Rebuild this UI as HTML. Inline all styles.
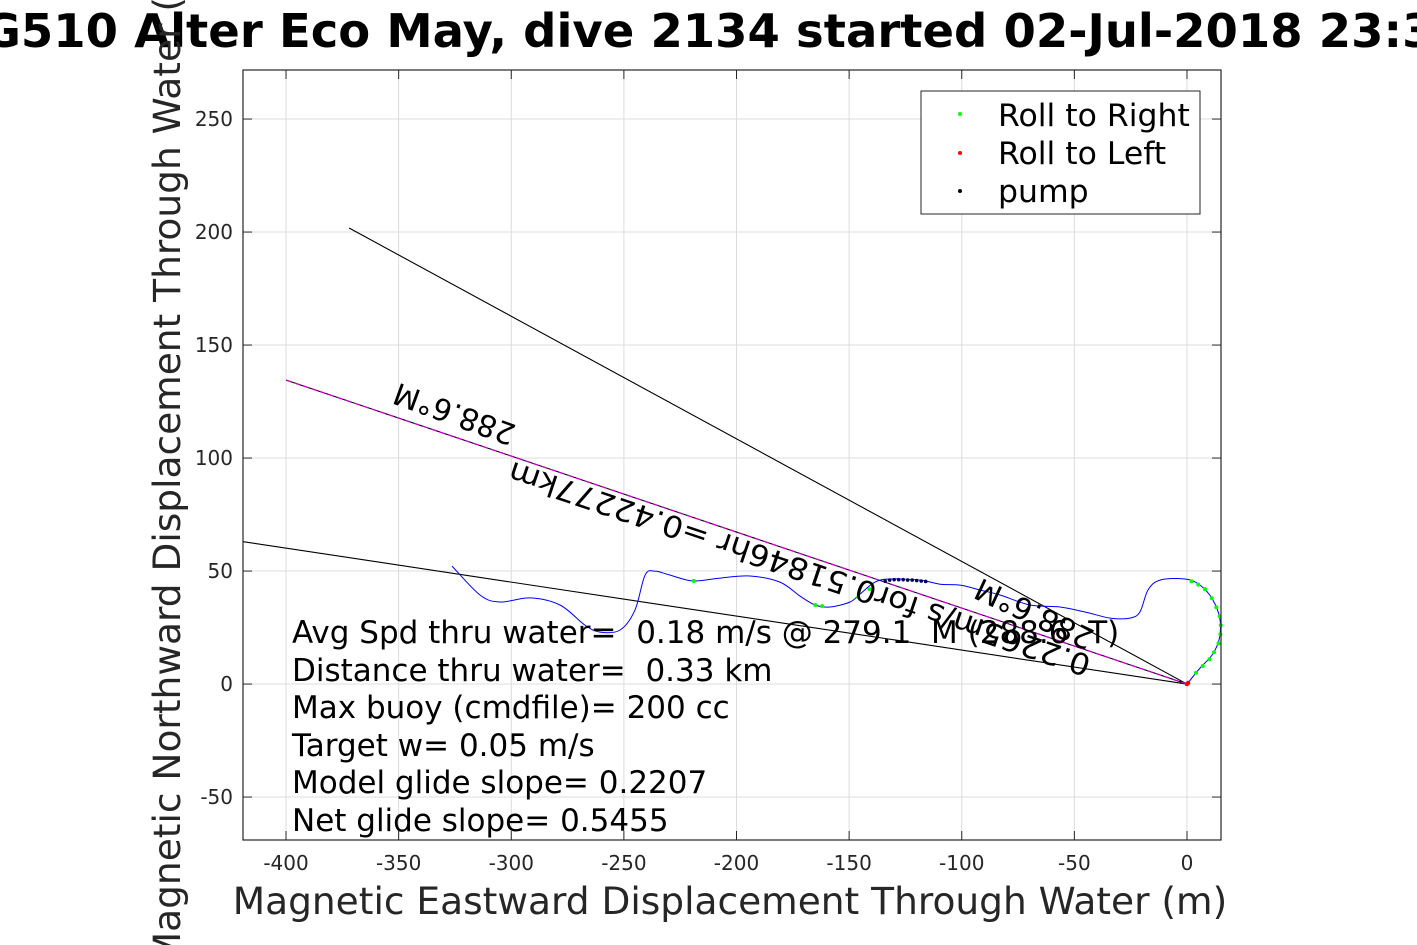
<!DOCTYPE html>
<html><head><meta charset="utf-8"><style>
html,body{margin:0;padding:0;background:#fff;}
svg{display:block;font-family:"DejaVu Sans","Liberation Sans",sans-serif;}
text{white-space:pre;}
</style></head><body>
<svg id="chart" width="1417" height="945" viewBox="0 0 1417 945">
<g id="grid"></g>
<g id="lines"></g>
<g id="track"></g>
<g id="marks"></g>
<rect x="243" y="70" width="978" height="770" fill="none" stroke="#262626" stroke-width="1.2"/>
<g id="ticks" font-size="20" fill="#262626"></g>
<text x="708" y="47" text-anchor="middle" font-size="46.5" font-weight="bold" fill="#000">SG510 Alter Eco May, dive 2134 started 02-Jul-2018 23:30</text>
<text x="730" y="914" text-anchor="middle" font-size="37.5" fill="#262626">Magnetic Eastward Displacement Through Water (m)</text>
<text transform="translate(180,455) rotate(-90)" text-anchor="middle" font-size="37.5" fill="#262626">Magnetic Northward Displacement Through Water (m)</text>
<g font-size="30" fill="#000">
<text transform="translate(455,412) rotate(200)" text-anchor="middle" dominant-baseline="middle">288.6°M</text>
<text transform="translate(800,567) rotate(198.6)" text-anchor="middle" dominant-baseline="middle" textLength="612" lengthAdjust="spacingAndGlyphs">0.2265m/s for0.51846hr =0.42277km</text>
<text transform="translate(1035,612) rotate(205)" text-anchor="middle" dominant-baseline="middle">288.6°M</text>
</g>
<g font-size="31" fill="#000">
<text x="292" y="643">Avg Spd thru water=  0.18 m/s @ 279.1  M (288.6  T)</text>
<text x="292" y="681">Distance thru water=  0.33 km</text>
<text x="292" y="718">Max buoy (cmdfile)= 200 cc</text>
<text x="292" y="756">Target w= 0.05 m/s</text>
<text x="292" y="793">Model glide slope= 0.2207</text>
<text x="292" y="831">Net glide slope= 0.5455</text>
</g>
<g>
<rect x="921" y="91" width="279" height="123" fill="#fff" stroke="#262626" stroke-width="1"/>
<circle cx="960" cy="114" r="2" fill="#00ff00"/>
<text x="998" y="126" font-size="31.5">Roll to Right</text>
<circle cx="960" cy="153" r="2" fill="#ff0000"/>
<text x="998" y="164" font-size="31.5">Roll to Left</text>
<circle cx="960" cy="191" r="2" fill="#000"/>
<text x="998" y="202" font-size="31.5">pump</text>
</g>
</svg>
<script>
const xTicks=[-400,-350,-300,-250,-200,-150,-100,-50,0];
const yTicks=[-50,0,50,100,150,200,250];
const trackX=[-326.3,-313.9,-305,-291.7,-278.4,-267.3,-260.6,-251.7,-245.1,-240.6,-236.2,-229.5,-219.3,-207.3,-194,-180.7,-171.8,-165.1,-158.5,-149.6,-145.2,-138.5,-131.9,-118.5,-109.7,-100.8,-91.9,-83,-69.7,-56.4,-45.3,-34.2,-25.3,-20.9,-17.3,-12,-0.9,5.8,11.5,14.7,14.2,11.1,5.8,0];
const trackY=[52.2,39.4,36.3,38.1,35,26.1,23,23.9,32.7,48.2,50,48.2,45.6,46.9,47.8,45.1,38.9,35,34.1,36.3,39.8,45.1,46.5,46,44.2,43.8,41.6,39.4,35,34.1,31.9,29.2,29.2,31.9,41.6,46,46.5,43.8,37.2,28.3,19.5,12.8,7.1,0];
const rightX=[-219,-165,-162,-146,-141,2,5,8,11,13,14.5,15,14.8,14,12,10,7,4];
const rightY=[45.6,35,34.5,38.5,42,45.5,44,42,38,34,30,26,22,18,14,11,8,5];
const pumpX=[-134,-132,-130,-128,-126,-124,-122,-120,-118,-116];
const pumpY=[45.5,46,46.2,46.2,46.2,46,46,45.8,45.6,45.4];
const leftX=[0,0.5];
const leftY=[0,0.5];
const lineEndX=[-372,-419,-400];
const lineEndY=[201.8,63,134.5];
const X0=-419.1,X1=15.1,Y0=-69,Y1=271.7;
const L=243,R=1221,T=70,B=840;
function sx(v){return L+(v-X0)/(X1-X0)*(R-L);}
function sy(v){return B-(v-Y0)/(Y1-Y0)*(B-T);}
const NS='http://www.w3.org/2000/svg';
function mk(tag,parent,attrs){const e=document.createElementNS(NS,tag);for(const k in attrs)e.setAttribute(k,attrs[k]);document.getElementById(parent).appendChild(e);return e;}
xTicks.forEach(v=>{
 const g=mk('line','grid',{x1:sx(v),x2:sx(v),y1:T,y2:B,stroke:'#dcdcdc','stroke-width':1});
 
 
 const t1=mk('line','ticks',{x1:sx(v),x2:sx(v),y1:B,y2:B-9,stroke:'#262626'});
 
 
 const t2=mk('line','ticks',{x1:sx(v),x2:sx(v),y1:T,y2:T+9,stroke:'#262626'});
 
 
 const tx=mk('text','ticks',{x:sx(v),y:870,'text-anchor':'middle'});
 tx.textContent=v;
 
 
});
yTicks.forEach(v=>{
 const g=mk('line','grid',{x1:L,x2:R,y1:sy(v),y2:sy(v),stroke:'#dcdcdc','stroke-width':1});
 
 
 const t1=mk('line','ticks',{x1:L,x2:L+9,y1:sy(v),y2:sy(v),stroke:'#262626'});
 
 
 const t2=mk('line','ticks',{x1:R,x2:R-9,y1:sy(v),y2:sy(v),stroke:'#262626'});
 
 
 const tx=mk('text','ticks',{x:233,y:sy(v)+7,'text-anchor':'end'});
 tx.textContent=v;
 
 
});
lineEndX.forEach((v,i)=>{
 const ln=mk('line','lines',{x1:sx(0),y1:sy(0),x2:sx(v),y2:sy(lineEndY[i]),stroke:'#000','stroke-width':1.1});
 
 
});
const mg=mk('line','lines',{x1:sx(0),y1:sy(0),x2:sx(lineEndX[2]),y2:sy(lineEndY[2]),stroke:'#cc00cc','stroke-width':1.3,'stroke-dasharray':'6 3'});


const P=trackX.map((v,i)=>[sx(v),sy(trackY[i])]);
let d='M'+P[0][0].toFixed(1)+' '+P[0][1].toFixed(1);
for(let i=0;i<P.length-1;i++){
 const p0=P[Math.max(0,i-1)],p1=P[i],p2=P[i+1],p3=P[Math.min(P.length-1,i+2)];
 const c1=[p1[0]+(p2[0]-p0[0])/6,p1[1]+(p2[1]-p0[1])/6];
 const c2=[p2[0]-(p3[0]-p1[0])/6,p2[1]-(p3[1]-p1[1])/6];
 d+=' C'+c1[0].toFixed(1)+' '+c1[1].toFixed(1)+' '+c2[0].toFixed(1)+' '+c2[1].toFixed(1)+' '+p2[0].toFixed(1)+' '+p2[1].toFixed(1);
}
const tp=mk('path','track',{d:d,fill:'none',stroke:'#0000ff','stroke-width':1,'stroke-linejoin':'round'});


rightX.forEach((v,i)=>{
 const c=mk('circle','marks',{cx:sx(v),cy:sy(rightY[i]),r:2,fill:'#00ff00'});
 
 
});
pumpX.forEach((v,i)=>{
 const c=mk('circle','marks',{cx:sx(v),cy:sy(pumpY[i]),r:1.8,fill:'#000066'});
 
 
});
leftX.forEach((v,i)=>{
 const c=mk('circle','marks',{cx:sx(v),cy:sy(leftY[i]),r:2.2,fill:'#ff0000'});
 
 
});
</script>
</body></html>
